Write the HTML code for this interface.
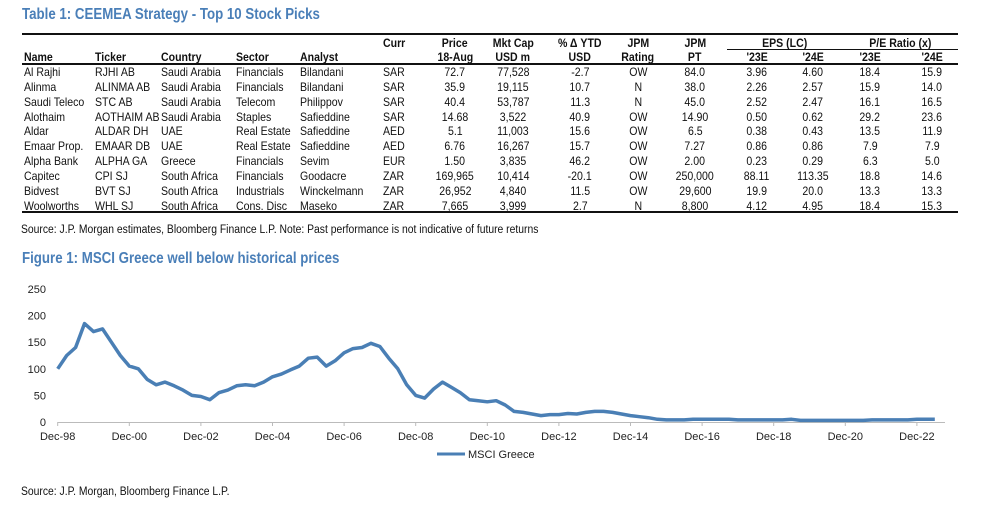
<!DOCTYPE html>
<html><head><meta charset="utf-8"><style>
body{margin:0;background:#fff;width:982px;height:517px;overflow:hidden;position:relative;font-family:"Liberation Sans",Arial,sans-serif;color:#111}
.t{position:absolute;white-space:nowrap;font-size:12px;line-height:12px}
.sx{display:inline-block;transform:scaleX(0.88);transform-origin:left center}
.c .sx{transform-origin:center center}
.b{font-weight:bold}
.title{position:absolute;white-space:nowrap;font-weight:bold;color:#4a7fb8;font-size:16px;line-height:16px}
.rule{position:absolute;background:#111}
</style></head><body>
<div class="title" style="left:22px;top:7px"><span class="sx" style="transform:scaleX(0.83)">Table 1: CEEMEA Strategy - Top 10 Stock Picks</span></div>
<div class="rule" style="left:22px;top:33px;width:936px;height:2px"></div>
<div class="rule" style="left:727px;top:49px;width:231px;height:1px"></div>
<div class="rule" style="left:22px;top:63px;width:936px;height:1.5px"></div>
<div class="rule" style="left:22px;top:211px;width:936px;height:1.5px"></div>
<div id="tbl"></div>
<div class="t" style="left:21px;top:224px;font-size:11.5px"><span class="sx" style="transform:scaleX(0.9)">Source: J.P. Morgan estimates, Bloomberg Finance L.P. Note: Past performance is not indicative of future returns</span></div>
<div class="title" style="left:22px;top:251px"><span class="sx" style="transform:scaleX(0.83)">Figure 1: MSCI Greece well below historical prices</span></div>
<svg id="chart" width="982" height="517" style="position:absolute;left:0;top:0"></svg>
<div class="t" style="left:21px;top:486px;font-size:11.5px"><span class="sx" style="transform:scaleX(0.9)">Source: J.P. Morgan, Bloomberg Finance L.P.</span></div>
<script>
const headers1=["","","","","","Curr","Price","Mkt Cap","% Δ YTD","JPM","JPM","EPS (LC)","","P/E Ratio (x)",""];
const headers2=["Name","Ticker","Country","Sector","Analyst","","18-Aug","USD m","USD","Rating","PT","'23E","'24E","'23E","'24E"];
const rows=[
["Al Rajhi","RJHI AB","Saudi Arabia","Financials","Bilandani","SAR","72.7","77,528","-2.7","OW","84.0","3.96","4.60","18.4","15.9"],
["Alinma","ALINMA AB","Saudi Arabia","Financials","Bilandani","SAR","35.9","19,115","10.7","N","38.0","2.26","2.57","15.9","14.0"],
["Saudi Teleco","STC AB","Saudi Arabia","Telecom","Philippov","SAR","40.4","53,787","11.3","N","45.0","2.52","2.47","16.1","16.5"],
["Alothaim","AOTHAIM AB","Saudi Arabia","Staples","Safieddine","SAR","14.68","3,522","40.9","OW","14.90","0.50","0.62","29.2","23.6"],
["Aldar","ALDAR DH","UAE","Real Estate","Safieddine","AED","5.1","11,003","15.6","OW","6.5","0.38","0.43","13.5","11.9"],
["Emaar Prop.","EMAAR DB","UAE","Real Estate","Safieddine","AED","6.76","16,267","15.7","OW","7.27","0.86","0.86","7.9","7.9"],
["Alpha Bank","ALPHA GA","Greece","Financials","Sevim","EUR","1.50","3,835","46.2","OW","2.00","0.23","0.29","6.3","5.0"],
["Capitec","CPI SJ","South Africa","Financials","Goodacre","ZAR","169,965","10,414","-20.1","OW","250,000","88.11","113.35","18.8","14.6"],
["Bidvest","BVT SJ","South Africa","Industrials","Winckelmann","ZAR","26,952","4,840","11.5","OW","29,600","19.9","20.0","13.3","13.3"],
["Woolworths","WHL SJ","South Africa","Cons. Disc","Maseko","ZAR","7,665","3,999","2.7","N","8,800","4.12","4.95","18.4","15.3"]];
const colX=[24,95,161,236,300,383,455,513,580,638,695,757,813,870,932];
const colC=[0,0,0,0,0,0,1,1,1,1,1,1,1,1,1];
const tbl=document.getElementById('tbl');
function cell(txt,i,y,bold,cx){
  const d=document.createElement('div');
  d.className='t'+(bold?' b':'')+(colC[i]||cx?' c':'');
  
  
  if(colC[i]||cx){d.style.left=((cx||colX[i])-60)+'px';d.style.width='120px';d.style.textAlign='center';}
  else d.style.left=colX[i]+'px';
  d.style.top=y+'px';
  d.innerHTML='<span class="sx">'+txt+'</span>';
  tbl.appendChild(d);
}
headers1.forEach((h,i)=>{if(!h)return; let cx=null; if(i==11)cx=785; if(i==13)cx=900; cell(h,i,37,true,cx);});
headers2.forEach((h,i)=>{if(h)cell(h,i,51,true);});
rows.forEach((r,j)=>r.forEach((v,i)=>cell(v,i,66+j*14.85,false)));

const startYear=1998.917;
const values=[100,125,140,185,170,175,150,125,105,100,80,70,75,68,60,50,48,42,55,60,68,70,68,75,85,90,98,105,120,122,105,115,130,138,140,148,142,120,100,70,50,45,62,75,65,55,42,40,38,40,32,20,18,15,12,14,14,16,15,18,20,20,18,15,12,10,8,5,4,4,4,5,5,5,5,5,4,4,4,4,4,4,5,3,3,3,3,3,3,3,3,4,4,4,4,4,5,5,5];
const yTicks=[0,50,100,150,200,250];
const xTickLabels=["Dec-98","Dec-00","Dec-02","Dec-04","Dec-06","Dec-08","Dec-10","Dec-12","Dec-14","Dec-16","Dec-18","Dec-20","Dec-22"];
const xTickYears=[1998.917,2000.917,2002.917,2004.917,2006.917,2008.917,2010.917,2012.917,2014.917,2016.917,2018.917,2020.917,2022.917];
const svg=document.getElementById('chart');const NS='http://www.w3.org/2000/svg';
const X=t=>57.7+(t-1998.917)*35.8;
const Y=v=>422-v*0.532;
function el(tag,attrs,name){const e=document.createElementNS(NS,tag);for(const k in attrs)e.setAttribute(k,attrs[k]);
 
 
 svg.appendChild(e);return e;}
yTicks.forEach(v=>{const t=el('text',{x:46,y:Y(v)+4,'text-anchor':'end','font-size':11,'font-family':'Liberation Sans, sans-serif',fill:'#222'},'y-tick-label');t.textContent=v;});
el('line',{x1:57.7,x2:945,y1:422.5,y2:422.5,stroke:'#bbb','stroke-width':1},'x-axis-line');
xTickYears.forEach((yr,i)=>{el('line',{x1:X(yr),x2:X(yr),y1:422,y2:426,stroke:'#bbb'},'x-tick');
 const t=el('text',{x:X(yr),y:440,'text-anchor':'middle','font-size':11,'font-family':'Liberation Sans, sans-serif',fill:'#222'},'x-tick-label');t.textContent=xTickLabels[i];});
const pts=values.map((v,i)=>X(startYear+i*0.25).toFixed(1)+','+Y(v).toFixed(1)).join(' ');
el('polyline',{points:pts,fill:'none',stroke:'#4a7fb5','stroke-width':3.5,'stroke-linejoin':'round'},'msci-greece-line');
el('line',{x1:437,x2:465,y1:454,y2:454,stroke:'#4a7fb5','stroke-width':3},'legend-swatch');
const lt=el('text',{x:468,y:458,'font-size':11,'font-family':'Liberation Sans, sans-serif',fill:'#222'},'legend-entry');lt.textContent='MSCI Greece';
</script>
</body></html>
